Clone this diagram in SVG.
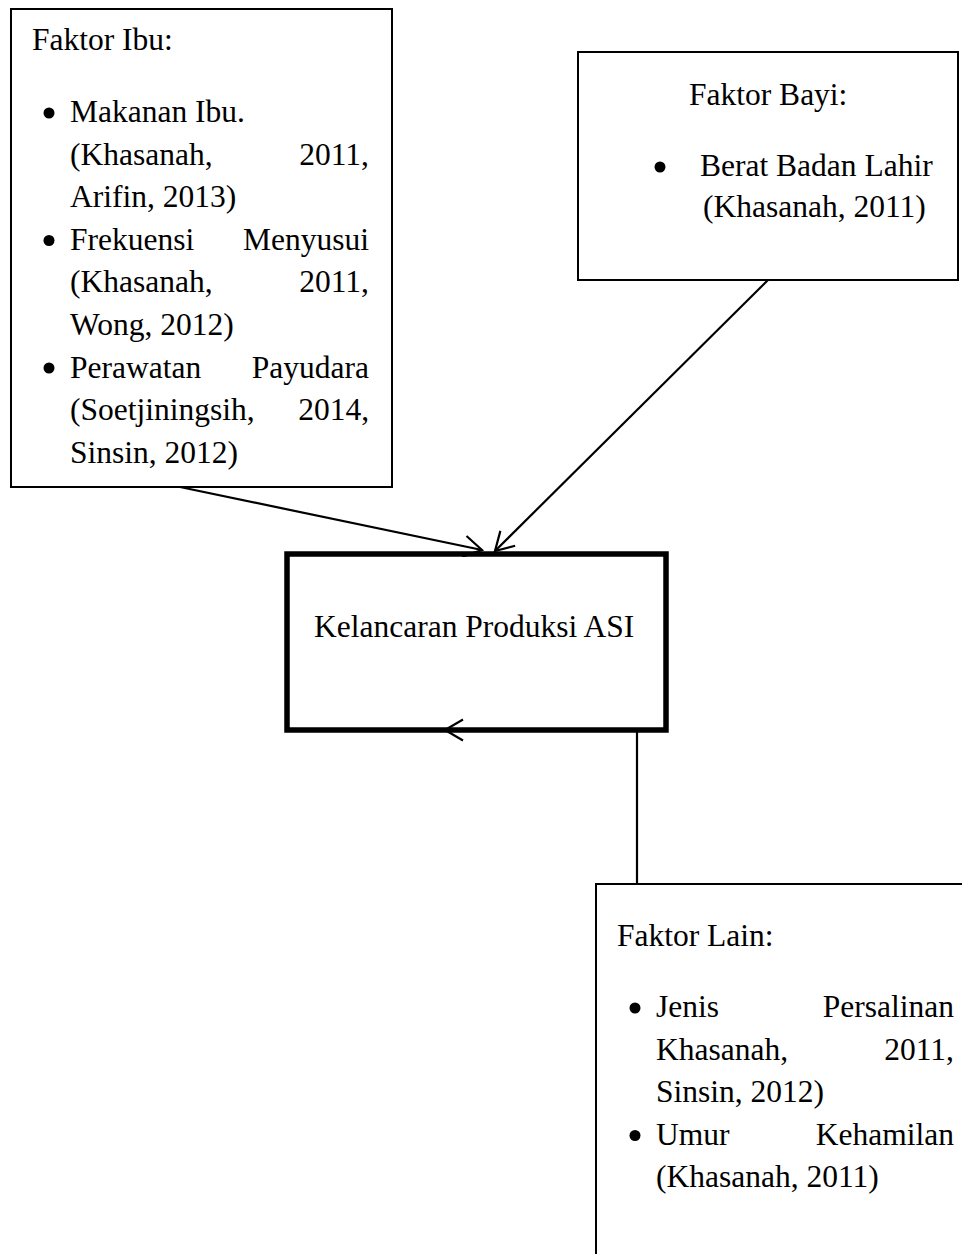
<svg xmlns="http://www.w3.org/2000/svg" width="962" height="1254" viewBox="0 0 962 1254">
  <style>
    text { font-family: "Liberation Serif", "Times New Roman", serif; font-size: 31.5px; fill: #000; }
    .end { text-anchor: end; }
    .box { fill: #fff; stroke: #000; stroke-width: 2; }
    .main { fill: #fff; stroke: #000; stroke-width: 5.5; }
    .conn { fill: none; stroke: #000; stroke-width: 2.2; }
    .dot { fill: #000; }
  </style>
  <defs>
    <marker id="arrow" viewBox="-24 -14 28 28" markerWidth="28" markerHeight="28" refX="0" refY="0" orient="auto" markerUnits="userSpaceOnUse" overflow="visible">
      <path d="M-18,-10.5 L0,0 L-18,10.5" fill="none" stroke="#000" stroke-width="2.2"/>
    </marker>
    <clipPath id="outsideMain">
      <path clip-rule="evenodd" d="M0,0 H962 V1254 H0 Z M290,557 H663 V727 H290 Z"/>
    </clipPath>
  </defs>
  <rect width="962" height="1254" fill="#fff"/>

  <g id="faktor-ibu">
    <rect class="box" x="11" y="9" width="381" height="478"/>
    <text x="32" y="50">Faktor Ibu:</text>
    <circle class="dot" cx="49" cy="113" r="5.5"/>
    <text x="70" y="122">Makanan Ibu.</text>
    <text x="70" y="164.6">(Khasanah,</text><text class="end" x="369" y="164.6">2011,</text>
    <text x="70" y="207.2">Arifin, 2013)</text>
    <circle class="dot" cx="49" cy="240.5" r="5.5"/>
    <text x="70" y="249.8">Frekuensi</text><text class="end" x="369" y="249.8">Menyusui</text>
    <text x="70" y="292.4">(Khasanah,</text><text class="end" x="369" y="292.4">2011,</text>
    <text x="70" y="335">Wong, 2012)</text>
    <circle class="dot" cx="49" cy="368" r="5.5"/>
    <text x="70" y="377.6">Perawatan</text><text class="end" x="369" y="377.6">Payudara</text>
    <text x="70" y="420.2">(Soetjiningsih,</text><text class="end" x="369" y="420.2">2014,</text>
    <text x="70" y="462.8">Sinsin, 2012)</text>
  </g>

  <g id="faktor-bayi">
    <rect class="box" x="578" y="52" width="380" height="228"/>
    <text x="689" y="105">Faktor Bayi:</text>
    <circle class="dot" cx="660" cy="167" r="5.5"/>
    <text x="700" y="176">Berat Badan Lahir</text>
    <text x="703" y="217">(Khasanah, 2011)</text>
  </g>

  <g id="kelancaran">
    <rect class="main" x="287" y="554" width="379" height="176"/>
    <text x="314" y="637">Kelancaran Produksi ASI</text>
  </g>

  <g id="faktor-lain">
    <rect class="box" x="596" y="884" width="420" height="420"/>
    <text x="617" y="946">Faktor Lain:</text>
    <circle class="dot" cx="635" cy="1008" r="5.5"/>
    <text x="656" y="1017">Jenis</text><text class="end" x="954" y="1017">Persalinan</text>
    <text x="656" y="1059.5">Khasanah,</text><text class="end" x="954" y="1059.5">2011,</text>
    <text x="656" y="1102">Sinsin, 2012)</text>
    <circle class="dot" cx="635" cy="1135.5" r="5.5"/>
    <text x="656" y="1144.5">Umur</text><text class="end" x="954" y="1144.5">Kehamilan</text>
    <text x="656" y="1187">(Khasanah, 2011)</text>
  </g>

  <g id="connectors">
    <g clip-path="url(#outsideMain)">
      <path class="conn" d="M180,487 L482,550" marker-end="url(#arrow)"/>
      <path class="conn" d="M768,280 L495,551" marker-end="url(#arrow)"/>
    </g>
    <path class="conn" d="M637,884 V730 H445" marker-end="url(#arrow)"/>
  </g>
</svg>
